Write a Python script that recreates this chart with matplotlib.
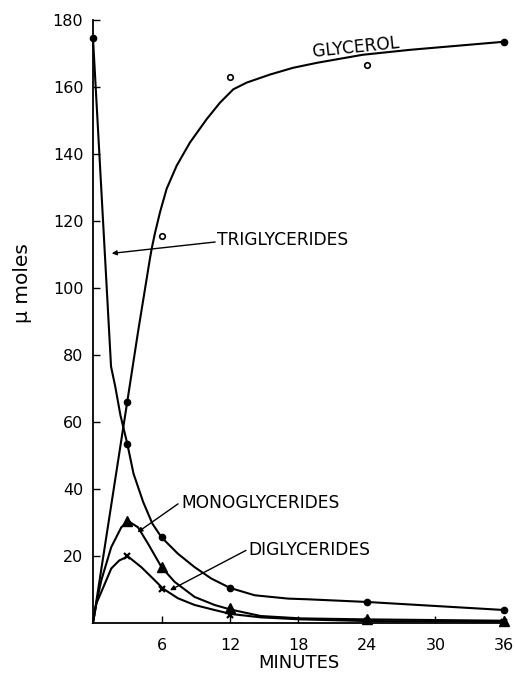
import matplotlib
matplotlib.use("Agg")
import matplotlib.pyplot as plt

# === Data ===
# measured points (minutes, umoles)
tri_t = [0, 3, 6, 12, 24, 36]
tri_y = [174.5, 53.5, 25.5, 10.4, 6.2, 3.8]

gly_t = [3, 36]
gly_y = [66, 173.5]
gly_open_t = [6, 12, 24]
gly_open_y = [115.5, 163, 166.6]

mono_t = [3, 6, 12, 24, 36]
mono_y = [30.4, 16.6, 4.3, 1.0, 0.6]

di_t = [3, 6, 12, 24, 36]
di_y = [19.8, 10.2, 2.4, 0.5, 0.3]

# hand-drawn curves
tri_curve_t = [0, 1.58, 1.95, 2.4, 3, 3.55, 4.4, 5.2, 6, 7.44, 8.9, 10.36, 12,
               14.16, 17.1, 18.8, 24, 36]
tri_curve_y = [174.5, 76.5, 70.5, 62, 53.5, 44.5, 36.0, 29.6, 25.5, 20.6, 16.6, 13.2, 10.4,
               8.2, 7.2, 7.0, 6.2, 3.8]

gly_curve_t = [0, 3, 3.95, 4.99, 5.14, 5.43, 5.87, 6.45, 7.33, 8.49, 9.96, 11.12, 12.29,
               13.46, 15.5, 17.5, 19.6, 23.6, 27.8, 36]
gly_curve_y = [0, 66, 87, 108.8, 111.7, 116.4, 122.6, 129.6, 136.5, 143.4, 150.4, 155.3, 159.3,
               161.3, 163.7, 165.7, 167.2, 169.6, 171.1, 173.5]

mono_curve_t = [0, 0.3, 0.73, 1.6, 2.48, 3.06, 3.94, 4.82, 6, 7.15, 8.9, 10.65, 12.1,
                14.7, 18.2, 24, 36]
mono_curve_y = [0, 6.0, 12.7, 22.6, 28.5, 30.4, 28.5, 23.6, 16.6, 12.2, 7.7, 5.3, 3.9,
                2.0, 1.3, 1.0, 0.6]

di_curve_t = [0, 0.3, 0.73, 1.6, 2.3, 3.06, 4.23, 5.4, 6.13, 7.44, 8.9, 10.65, 12.1,
              14.7, 18.2, 24, 36]
di_curve_y = [0, 5.8, 9.2, 16.2, 18.6, 19.8, 16.6, 12.7, 10.2, 7.3, 5.3, 3.8, 2.6,
              1.6, 1.0, 0.5, 0.3]

x_ticks = [6, 12, 18, 24, 30, 36]
y_ticks = [20, 40, 60, 80, 100, 120, 140, 160, 180]

# === Figure ===
fig = plt.figure(figsize=(5.15, 6.73), dpi=100)
ax = fig.add_axes([0.1806, 0.0747, 0.798, 0.8956])

lw = 1.5
for ct, cy in [(tri_curve_t, tri_curve_y), (gly_curve_t, gly_curve_y),
               (mono_curve_t, mono_curve_y), (di_curve_t, di_curve_y)]:
    ax.plot(ct, cy, color="black", lw=lw, solid_joinstyle="round", clip_on=False)

ax.plot(tri_t, tri_y, "o", color="black", ms=4.5, clip_on=False)
ax.plot(gly_t, gly_y, "o", color="black", ms=4.5, clip_on=False)
ax.plot(gly_open_t, gly_open_y, "o", mfc="white", mec="black", mew=1.2, ms=4, clip_on=False)
ax.plot(mono_t, mono_y, "^", color="black", ms=6.5, clip_on=False)
ax.plot(di_t, di_y, "x", color="black", ms=5, mew=1.6, clip_on=False)

# labels with arrows
txt = dict(fontsize=12.3, color="black", family="DejaVu Sans")
arw = dict(arrowstyle="-|>", lw=1.0, color="black", mutation_scale=7, shrinkA=0, shrinkB=0)

ax.text(23.0, 171.8, "GLYCEROL", ha="center", va="center", rotation=6, **txt)

ax.text(10.9, 114.3, "TRIGLYCERIDES", ha="left", va="center", **txt)
ax.annotate("", xy=(1.64, 110.3), xytext=(10.7, 113.7), arrowprops=arw)

ax.text(7.75, 35.8, "MONOGLYCERIDES", ha="left", va="center", **txt)
ax.annotate("", xy=(3.9, 27.0), xytext=(7.45, 35.5), arrowprops=arw)

ax.text(13.65, 21.8, "DIGLYCERIDES", ha="left", va="center", **txt)
ax.annotate("", xy=(6.74, 9.7), xytext=(13.4, 21.6), arrowprops=arw)

# axes styling
ax.set_xlim(0, 36)
ax.set_ylim(0, 180)
ax.spines["top"].set_visible(False)
ax.spines["right"].set_visible(False)
ax.spines["left"].set_linewidth(1.3)
ax.spines["bottom"].set_linewidth(1.3)
ax.set_xticks(x_ticks)
ax.set_yticks(y_ticks)
ax.tick_params(direction="in", length=5, width=1, labelsize=11.5)
ax.tick_params(axis="x", pad=11)
ax.tick_params(axis="y", pad=7)
ax.set_xlabel("MINUTES", fontsize=13, labelpad=1)

fig.text(23 / 515, 1 - 283 / 673, "\u03bc moles", rotation=90, fontsize=14.5,
         ha="center", va="center")

fig.savefig("out.png", dpi=100)
